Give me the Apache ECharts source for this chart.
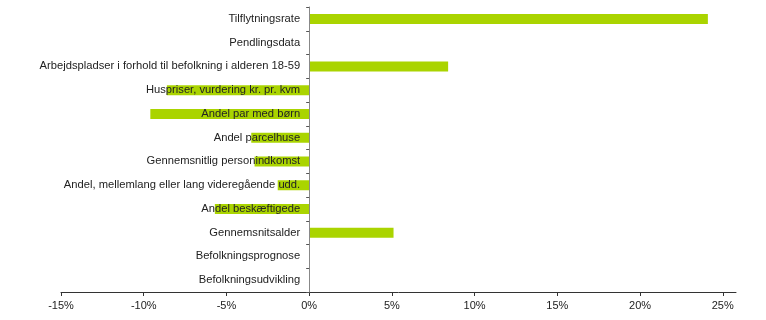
<!DOCTYPE html>
<html><head><meta charset="utf-8">
<script src="https://cdn.jsdelivr.net/npm/echarts@6/dist/echarts.min.js"></script>
<style>html,body{margin:0;padding:0;background:#fff}#c{width:766px;height:320px}</style>
</head><body><div id="c"></div>
<script>
const categories = [
  'Tilflytningsrate',
  'Pendlingsdata',
  'Arbejdspladser i forhold til befolkning i alderen 18-59',
  'Huspriser, vurdering kr. pr. kvm',
  'Andel par med børn',
  'Andel parcelhuse',
  'Gennemsnitlig personindkomst',
  'Andel, mellemlang eller lang videregående udd.',
  'Andel beskæftigede',
  'Gennemsnitsalder',
  'Befolkningsprognose',
  'Befolkningsudvikling'
];
const values = [24.1, 0, 8.4, -8.6, -9.6, -3.5, -3.3, -1.9, -5.7, 5.1, 0, 0];
const xTicks = [-15, -10, -5, 0, 5, 10, 15, 20, 25];

const X_MIN = -15, X_MAX = 25.8;
const GRID_LEFT = 61, GRID_RIGHT = 30, W = 766;
const plotW = W - GRID_LEFT - GRID_RIGHT;
const zeroOffset = (0 - X_MIN) / (X_MAX - X_MIN) * plotW;

const chart = echarts.init(document.getElementById('c'), null, {renderer: 'canvas'});
chart.setOption({
  animation: false,
  backgroundColor: '#fff',
  grid: {left: GRID_LEFT, right: GRID_RIGHT, top: 7, bottom: 28, outerBoundsMode: 'none'},
  xAxis: {
    type: 'value', min: X_MIN, max: X_MAX,
    axisLine: {show: true, onZero: false, lineStyle: {color: '#333', width: 1}},
    axisTick: {show: true, length: 4, lineStyle: {color: '#333'}, customValues: xTicks},
    axisLabel: {customValues: xTicks, formatter: v => v + '%', color: '#222', fontSize: 11, fontFamily: 'Liberation Sans, Arial, sans-serif', margin: 8},
    splitLine: {show: false}
  },
  yAxis: {
    type: 'category', data: categories, inverse: true, z: 10,
    offset: -zeroOffset,
    axisLine: {show: true, onZero: false, lineStyle: {color: '#888', width: 1}},
    axisTick: {show: true, length: 3, lineStyle: {color: '#555'}},
    axisLabel: {color: '#222', fontSize: 11.2, fontFamily: 'Liberation Sans, Arial, sans-serif', margin: 9},
    splitLine: {show: false}
  },
  series: [{
    type: 'bar', data: values, barWidth: 10,
    itemStyle: {color: '#AAD400'}
  }]
});
</script>
</body></html>
